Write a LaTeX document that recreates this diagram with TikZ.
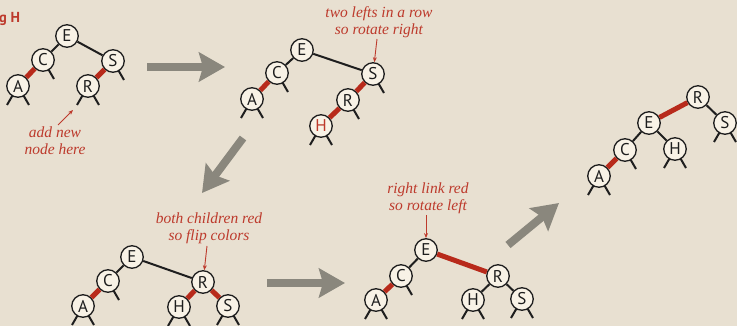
\documentclass[tikz,border=0pt]{standalone}
\usepackage{fontspec}
\setsansfont{PT Sans}
\newfontfamily\notefont{Liberation Serif}
\usetikzlibrary{arrows.meta}
\definecolor{bg}{HTML}{E8E0D1}
\definecolor{nodefill}{HTML}{F8F2E6}
\definecolor{redlink}{HTML}{B82A1B}
\definecolor{redtext}{HTML}{BD3A2C}
\definecolor{bigarrow}{HTML}{8A877D}
\definecolor{ink}{HTML}{1E1E1E}
\pgfdeclarelayer{edges}
\pgfdeclarelayer{bglayer}
\pgfsetlayers{bglayer,edges,main}
\newcommand\stubL[1]{\draw[blk] (#1.center) -- ++(-11,19);}
\newcommand\stubR[1]{\draw[blk] (#1.center) -- ++(11,19);}
\begin{document}
\begin{tikzpicture}[x=1pt,y=-1pt,
  key/.style={circle,draw=ink,line width=1.3pt,fill=nodefill,minimum size=22.5pt,inner sep=0pt,
    font=\sffamily\fontsize{17}{17}\selectfont,text=ink},
  redkey/.style={key,text=redtext},
  blk/.style={draw=ink,line width=2pt},
  redl/.style={draw=redlink,line width=5pt},
  note/.style={align=center,text=redtext,font=\notefont\itshape\fontsize{15.5}{17}\selectfont,inner sep=0pt},
  notearrow/.style={draw=redtext,line width=0.9pt,-{Stealth[length=5pt,width=4pt]}},
  big/.style={draw=bigarrow,line width=8pt,-{Stealth[length=26pt,width=29pt,inset=4pt]}}]
\clip (0,0) rectangle (737,326);
\begin{pgfonlayer}{bglayer}
\fill[bg] (0,0) rectangle (737,326);
\end{pgfonlayer}
\node[anchor=base west,inner sep=0pt,text=redtext,font=\sffamily\bfseries\fontsize{14.5}{14.5}\selectfont] (title) at (-1,23) {g H};
% ---------- tree 1
\node[key] (a1E) at (67,36) {E};
\node[key] (a1C) at (43,60) {C};
\node[key] (a1S) at (113,61) {S};
\node[key] (a1A) at (18,86) {A};
\node[key] (a1R) at (88,86) {R};
\draw[blk] (a1E) -- (a1C);
\draw[blk] (a1E) -- (a1S);
\draw[redl] (a1C) -- (a1A);
\draw[redl] (a1S) -- (a1R);
\begin{pgfonlayer}{edges}
\stubL{a1A}\stubR{a1A}\stubR{a1C}\stubR{a1S}\stubL{a1R}\stubR{a1R}
\end{pgfonlayer}
\node[note] (n1) at (55,141) {add new\\node here};
\coordinate (n1t) at (58,125);
\coordinate (n1h) at (73,110);
\draw[notearrow] (n1t) -- (n1h);
% ---------- tree 2
\node[key] (b2E) at (302,50) {E};
\node[key] (b2C) at (277,73) {C};
\node[key] (b2S) at (373,74) {S};
\node[key] (b2A) at (252,99) {A};
\node[key] (b2R) at (348,100) {R};
\node[redkey] (b2H) at (321,126) {H};
\draw[blk] (b2E) -- (b2C);
\draw[blk] (b2E) -- (b2S);
\draw[redl] (b2C) -- (b2A);
\draw[redl] (b2S) -- (b2R);
\draw[redl] (b2R) -- (b2H);
\begin{pgfonlayer}{edges}
\stubL{b2A}\stubR{b2A}\stubR{b2C}\stubR{b2S}\stubR{b2R}\stubL{b2H}\stubR{b2H}
\end{pgfonlayer}
\node[note] (n2) at (379,22) {two lefts in a row\\so rotate right};
\coordinate (n2t) at (377,39);
\draw[notearrow] (n2t) -- (b2S);
% ---------- tree 3
\node[key] (c3E) at (132,257) {E};
\node[key] (c3C) at (108,281) {C};
\node[key] (c3R) at (203,282) {R};
\node[key] (c3A) at (83,306) {A};
\node[key] (c3H) at (179,307) {H};
\node[key] (c3S) at (228,306) {S};
\draw[blk] (c3E) -- (c3C);
\draw[blk] (c3E) -- (c3R);
\draw[redl] (c3C) -- (c3A);
\draw[redl] (c3R) -- (c3H);
\draw[redl] (c3R) -- (c3S);
\begin{pgfonlayer}{edges}
\stubR{c3C}\stubL{c3A}\stubR{c3A}\stubL{c3H}\stubR{c3H}\stubL{c3S}\stubR{c3S}
\end{pgfonlayer}
\node[note] (n3) at (209,228) {both children red\\so flip colors};
\coordinate (n3t) at (207,246);
\draw[notearrow] (n3t) -- (c3R);
% ---------- tree 4
\node[key] (d4E) at (426,250) {E};
\node[key] (d4C) at (401,276) {C};
\node[key] (d4R) at (498,276) {R};
\node[key] (d4A) at (376,300) {A};
\node[key] (d4H) at (473,300) {H};
\node[key] (d4S) at (522,299) {S};
\draw[blk] (d4E) -- (d4C);
\draw[redl] (d4E) -- (d4R);
\draw[redl] (d4C) -- (d4A);
\draw[blk] (d4R) -- (d4H);
\draw[blk] (d4R) -- (d4S);
\begin{pgfonlayer}{edges}
\stubR{d4C}\stubL{d4A}\stubR{d4A}\stubL{d4H}\stubR{d4H}\stubL{d4S}\stubR{d4S}
\end{pgfonlayer}
\node[note] (n4) at (428,198) {right link red\\so rotate left};
\coordinate (n4t) at (426,215);
\draw[notearrow] (n4t) -- (d4E);
% ---------- tree 5
\node[key] (e5R) at (698,97) {R};
\node[key] (e5E) at (649,123) {E};
\node[key] (e5S) at (725,123) {S};
\node[key] (e5C) at (625,150) {C};
\node[key] (e5H) at (675,149) {H};
\node[key] (e5A) at (599,176) {A};
\draw[redl] (e5R) -- (e5E);
\draw[blk] (e5R) -- (e5S);
\draw[blk] (e5E) -- (e5C);
\draw[blk] (e5E) -- (e5H);
\draw[redl] (e5C) -- (e5A);
\begin{pgfonlayer}{edges}
\stubL{e5S}\stubR{e5S}\stubR{e5C}\stubL{e5H}\stubR{e5H}\stubL{e5A}\stubR{e5A}
\end{pgfonlayer}
% ---------- big arrows
\coordinate (g1a) at (147,67); \coordinate (g1b) at (225,67);
\coordinate (g2a) at (243,138); \coordinate (g2b) at (202,193);
\coordinate (g3a) at (267,283); \coordinate (g3b) at (345,283);
\coordinate (g4a) at (508,245); \coordinate (g4b) at (559,203);
\draw[big] (g1a) -- (g1b);
\draw[big] (g2a) -- (g2b);
\draw[big] (g3a) -- (g3b);
\draw[big] (g4a) -- (g4b);
\end{tikzpicture}
\end{document}
